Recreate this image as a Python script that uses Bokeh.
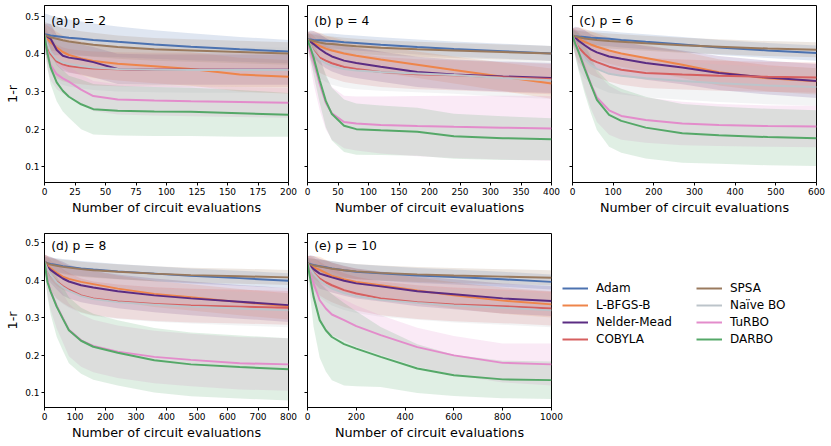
import numpy as np
from bokeh.plotting import figure
from bokeh.models import Range1d, FixedTicker, Label, Legend, LegendItem, CustomJSTickFormatter
from bokeh.layouts import column, row
from bokeh.embed import file_html
from bokeh.resources import INLINE

METHODS = ["Adam", "L-BFGS-B", "Nelder-Mead", "COBYLA", "SPSA", "Naïve BO", "TuRBO", "DARBO"]
COLORS = ["#4C72B0", "#EE854A", "#5B2C83", "#D65F5F", "#9A7A5E", "#BCC4CA", "#E38CCB", "#55A868"]

# ---------------- p = 2 ----------------
EVALS_P2 = [0, 2.5, 5, 10, 15, 20, 30, 40, 60, 90, 120, 160, 200]
MEAN_P2 = {
    "Adam":        [0.452, 0.451, 0.449, 0.447, 0.445, 0.443, 0.440, 0.437, 0.432, 0.425, 0.419, 0.412, 0.406],
    "L-BFGS-B":    [0.450, 0.440, 0.430, 0.417, 0.405, 0.397, 0.388, 0.381, 0.374, 0.367, 0.360, 0.345, 0.339],
    "Nelder-Mead": [0.450, 0.445, 0.440, 0.410, 0.395, 0.390, 0.385, 0.378, 0.360, 0.358, 0.358, 0.358, 0.358],
    "COBYLA":      [0.450, 0.420, 0.400, 0.380, 0.372, 0.368, 0.364, 0.361, 0.359, 0.358, 0.358, 0.357, 0.357],
    "SPSA":        [0.450, 0.447, 0.444, 0.440, 0.436, 0.433, 0.428, 0.424, 0.418, 0.412, 0.409, 0.405, 0.401],
    "Naïve BO":    [0.450, 0.425, 0.405, 0.385, 0.377, 0.373, 0.368, 0.364, 0.360, 0.358, 0.357, 0.357, 0.357],
    "TuRBO":       [0.450, 0.400, 0.370, 0.346, 0.335, 0.326, 0.305, 0.288, 0.279, 0.276, 0.274, 0.272, 0.270],
    "DARBO":       [0.450, 0.400, 0.364, 0.324, 0.302, 0.286, 0.266, 0.253, 0.249, 0.247, 0.246, 0.242, 0.238],
}
SD_P2 = {
    "Adam":        [0.055, 0.054, 0.053, 0.051, 0.049, 0.048, 0.046, 0.044, 0.041, 0.038, 0.036, 0.033, 0.031],
    "L-BFGS-B":    [0.030, 0.035, 0.040, 0.042, 0.044, 0.045, 0.045, 0.045, 0.045, 0.045, 0.045, 0.045, 0.045],
    "Nelder-Mead": [0.030, 0.035, 0.040, 0.040, 0.040, 0.040, 0.040, 0.040, 0.040, 0.040, 0.040, 0.040, 0.040],
    "COBYLA":      [0.030, 0.040, 0.045, 0.045, 0.045, 0.045, 0.045, 0.045, 0.045, 0.045, 0.045, 0.045, 0.045],
    "SPSA":        [0.035, 0.035, 0.035, 0.034, 0.033, 0.033, 0.032, 0.032, 0.031, 0.030, 0.030, 0.030, 0.030],
    "Naïve BO":    [0.030, 0.045, 0.055, 0.060, 0.060, 0.060, 0.060, 0.060, 0.060, 0.060, 0.060, 0.060, 0.060],
    "TuRBO":       [0.030, 0.040, 0.040, 0.040, 0.040, 0.040, 0.040, 0.040, 0.040, 0.040, 0.040, 0.040, 0.040],
    "DARBO":       [0.030, 0.040, 0.045, 0.050, 0.055, 0.056, 0.066, 0.067, 0.066, 0.065, 0.064, 0.062, 0.058],
}

# ---------------- p = 4 ----------------
EVALS_P4 = [0, 5, 10, 20, 30, 40, 60, 80, 120, 180, 240, 320, 400]
MEAN_P4 = {
    "Adam":        [0.438, 0.438, 0.437, 0.436, 0.435, 0.434, 0.431, 0.429, 0.424, 0.418, 0.413, 0.407, 0.401],
    "L-BFGS-B":    [0.438, 0.434, 0.430, 0.421, 0.414, 0.409, 0.401, 0.395, 0.385, 0.371, 0.357, 0.339, 0.321],
    "Nelder-Mead": [0.438, 0.432, 0.426, 0.413, 0.402, 0.393, 0.382, 0.376, 0.366, 0.352, 0.345, 0.340, 0.336],
    "COBYLA":      [0.438, 0.420, 0.408, 0.390, 0.382, 0.375, 0.365, 0.360, 0.352, 0.346, 0.343, 0.338, 0.333],
    "SPSA":        [0.438, 0.436, 0.434, 0.430, 0.427, 0.426, 0.423, 0.420, 0.416, 0.412, 0.409, 0.405, 0.401],
    "Naïve BO":    [0.438, 0.420, 0.405, 0.385, 0.375, 0.368, 0.360, 0.356, 0.352, 0.348, 0.344, 0.336, 0.330],
    "TuRBO":       [0.438, 0.405, 0.380, 0.320, 0.270, 0.242, 0.219, 0.215, 0.211, 0.208, 0.206, 0.204, 0.202],
    "DARBO":       [0.438, 0.415, 0.390, 0.330, 0.275, 0.240, 0.209, 0.200, 0.197, 0.193, 0.181, 0.176, 0.173],
}
SD_P4 = {
    "Adam":        [0.015, 0.016, 0.017, 0.018, 0.019, 0.020, 0.020, 0.020, 0.020, 0.020, 0.020, 0.020, 0.020],
    "L-BFGS-B":    [0.020, 0.025, 0.030, 0.035, 0.035, 0.035, 0.035, 0.035, 0.035, 0.035, 0.036, 0.038, 0.040],
    "Nelder-Mead": [0.020, 0.030, 0.035, 0.040, 0.040, 0.040, 0.040, 0.040, 0.040, 0.040, 0.040, 0.040, 0.040],
    "COBYLA":      [0.020, 0.035, 0.040, 0.040, 0.040, 0.040, 0.040, 0.040, 0.040, 0.040, 0.040, 0.040, 0.040],
    "SPSA":        [0.015, 0.016, 0.017, 0.018, 0.019, 0.020, 0.020, 0.020, 0.020, 0.020, 0.020, 0.020, 0.020],
    "Naïve BO":    [0.020, 0.040, 0.050, 0.050, 0.050, 0.050, 0.050, 0.050, 0.050, 0.050, 0.050, 0.050, 0.050],
    "TuRBO":       [0.020, 0.040, 0.060, 0.070, 0.070, 0.070, 0.070, 0.072, 0.076, 0.080, 0.083, 0.085, 0.086],
    "DARBO":       [0.020, 0.030, 0.045, 0.060, 0.070, 0.070, 0.070, 0.068, 0.066, 0.064, 0.060, 0.058, 0.056],
}

# ---------------- p = 6 ----------------
EVALS_P6 = [0, 7.5, 15, 30, 45, 60, 90, 120, 180, 270, 360, 480, 600]
MEAN_P6 = {
    "Adam":        [0.448, 0.447, 0.446, 0.445, 0.443, 0.442, 0.440, 0.437, 0.432, 0.425, 0.417, 0.409, 0.402],
    "L-BFGS-B":    [0.448, 0.444, 0.440, 0.432, 0.425, 0.419, 0.409, 0.401, 0.389, 0.371, 0.351, 0.335, 0.327],
    "Nelder-Mead": [0.448, 0.442, 0.435, 0.423, 0.412, 0.404, 0.393, 0.387, 0.376, 0.364, 0.349, 0.337, 0.328],
    "COBYLA":      [0.448, 0.430, 0.417, 0.400, 0.385, 0.378, 0.366, 0.358, 0.349, 0.345, 0.342, 0.339, 0.337],
    "SPSA":        [0.448, 0.446, 0.444, 0.441, 0.439, 0.437, 0.434, 0.432, 0.428, 0.423, 0.419, 0.414, 0.411],
    "Naïve BO":    [0.448, 0.430, 0.410, 0.385, 0.370, 0.360, 0.347, 0.342, 0.335, 0.328, 0.322, 0.316, 0.312],
    "TuRBO":       [0.448, 0.430, 0.408, 0.364, 0.320, 0.284, 0.250, 0.235, 0.224, 0.215, 0.211, 0.208, 0.207],
    "DARBO":       [0.448, 0.425, 0.405, 0.360, 0.318, 0.278, 0.238, 0.222, 0.204, 0.189, 0.184, 0.179, 0.176],
}
SD_P6 = {
    "Adam":        [0.015, 0.016, 0.017, 0.018, 0.019, 0.020, 0.020, 0.020, 0.020, 0.020, 0.020, 0.020, 0.020],
    "L-BFGS-B":    [0.020, 0.025, 0.030, 0.035, 0.035, 0.035, 0.035, 0.035, 0.035, 0.035, 0.035, 0.035, 0.035],
    "Nelder-Mead": [0.020, 0.030, 0.035, 0.040, 0.040, 0.042, 0.044, 0.045, 0.045, 0.045, 0.045, 0.045, 0.045],
    "COBYLA":      [0.020, 0.035, 0.040, 0.040, 0.040, 0.040, 0.040, 0.040, 0.040, 0.040, 0.040, 0.040, 0.040],
    "SPSA":        [0.015, 0.016, 0.017, 0.018, 0.019, 0.020, 0.020, 0.020, 0.020, 0.020, 0.020, 0.020, 0.020],
    "Naïve BO":    [0.020, 0.040, 0.050, 0.050, 0.050, 0.050, 0.050, 0.050, 0.050, 0.050, 0.050, 0.050, 0.050],
    "TuRBO":       [0.020, 0.035, 0.045, 0.060, 0.065, 0.065, 0.065, 0.063, 0.060, 0.058, 0.056, 0.055, 0.055],
    "DARBO":       [0.020, 0.035, 0.050, 0.065, 0.075, 0.080, 0.085, 0.085, 0.082, 0.078, 0.076, 0.075, 0.074],
}

# ---------------- p = 8 ----------------
EVALS_P8 = [0, 10, 20, 40, 60, 80, 120, 160, 240, 360, 480, 640, 800]
MEAN_P8 = {
    "Adam":        [0.449, 0.446, 0.444, 0.441, 0.438, 0.436, 0.432, 0.429, 0.424, 0.418, 0.412, 0.406, 0.399],
    "L-BFGS-B":    [0.449, 0.440, 0.432, 0.420, 0.410, 0.404, 0.396, 0.390, 0.378, 0.364, 0.355, 0.342, 0.331],
    "Nelder-Mead": [0.449, 0.435, 0.428, 0.416, 0.405, 0.397, 0.387, 0.381, 0.371, 0.360, 0.352, 0.343, 0.334],
    "COBYLA":      [0.449, 0.430, 0.414, 0.397, 0.385, 0.375, 0.360, 0.352, 0.344, 0.337, 0.333, 0.330, 0.327],
    "SPSA":        [0.449, 0.445, 0.442, 0.439, 0.436, 0.434, 0.430, 0.427, 0.423, 0.418, 0.414, 0.411, 0.408],
    "Naïve BO":    [0.449, 0.430, 0.415, 0.395, 0.382, 0.372, 0.358, 0.350, 0.342, 0.335, 0.330, 0.325, 0.320],
    "TuRBO":       [0.449, 0.400, 0.372, 0.332, 0.300, 0.268, 0.240, 0.225, 0.210, 0.196, 0.188, 0.179, 0.176],
    "DARBO":       [0.449, 0.395, 0.370, 0.330, 0.298, 0.267, 0.239, 0.223, 0.207, 0.187, 0.176, 0.169, 0.163],
}
SD_P8 = {
    "Adam":        [0.015, 0.016, 0.017, 0.018, 0.019, 0.020, 0.020, 0.020, 0.020, 0.020, 0.020, 0.020, 0.020],
    "L-BFGS-B":    [0.020, 0.025, 0.030, 0.035, 0.035, 0.035, 0.035, 0.035, 0.035, 0.035, 0.035, 0.035, 0.035],
    "Nelder-Mead": [0.020, 0.030, 0.035, 0.040, 0.045, 0.045, 0.045, 0.045, 0.045, 0.045, 0.045, 0.045, 0.045],
    "COBYLA":      [0.020, 0.035, 0.040, 0.045, 0.045, 0.045, 0.045, 0.045, 0.045, 0.045, 0.045, 0.045, 0.045],
    "SPSA":        [0.015, 0.016, 0.017, 0.018, 0.019, 0.020, 0.020, 0.020, 0.020, 0.020, 0.020, 0.020, 0.020],
    "Naïve BO":    [0.020, 0.035, 0.045, 0.045, 0.045, 0.045, 0.045, 0.045, 0.045, 0.045, 0.045, 0.045, 0.045],
    "TuRBO":       [0.020, 0.040, 0.050, 0.060, 0.065, 0.070, 0.070, 0.070, 0.070, 0.070, 0.070, 0.070, 0.070],
    "DARBO":       [0.020, 0.040, 0.060, 0.080, 0.085, 0.088, 0.088, 0.088, 0.087, 0.086, 0.085, 0.084, 0.083],
}

# ---------------- p = 10 ----------------
EVALS_P10 = [0, 12.5, 25, 50, 75, 100, 150, 200, 300, 450, 600, 800, 1000]
MEAN_P10 = {
    "Adam":        [0.445, 0.443, 0.441, 0.438, 0.435, 0.432, 0.427, 0.423, 0.419, 0.413, 0.409, 0.403, 0.396],
    "L-BFGS-B":    [0.445, 0.440, 0.435, 0.428, 0.420, 0.412, 0.403, 0.396, 0.387, 0.373, 0.360, 0.346, 0.336],
    "Nelder-Mead": [0.445, 0.437, 0.430, 0.418, 0.413, 0.408, 0.399, 0.392, 0.384, 0.371, 0.363, 0.352, 0.345],
    "COBYLA":      [0.445, 0.430, 0.420, 0.405, 0.395, 0.387, 0.374, 0.365, 0.352, 0.342, 0.336, 0.331, 0.325],
    "SPSA":        [0.445, 0.442, 0.440, 0.437, 0.434, 0.431, 0.427, 0.424, 0.420, 0.416, 0.413, 0.410, 0.407],
    "Naïve BO":    [0.445, 0.430, 0.418, 0.400, 0.388, 0.378, 0.366, 0.358, 0.348, 0.340, 0.333, 0.327, 0.320],
    "TuRBO":       [0.445, 0.415, 0.392, 0.347, 0.325, 0.309, 0.294, 0.278, 0.254, 0.222, 0.200, 0.180, 0.176],
    "DARBO":       [0.445, 0.400, 0.356, 0.294, 0.267, 0.249, 0.230, 0.218, 0.196, 0.165, 0.147, 0.136, 0.134],
}
SD_P10 = {
    "Adam":        [0.015, 0.016, 0.017, 0.018, 0.019, 0.020, 0.020, 0.020, 0.020, 0.020, 0.020, 0.020, 0.020],
    "L-BFGS-B":    [0.020, 0.025, 0.030, 0.035, 0.035, 0.035, 0.035, 0.035, 0.035, 0.035, 0.035, 0.035, 0.035],
    "Nelder-Mead": [0.020, 0.030, 0.035, 0.040, 0.040, 0.040, 0.040, 0.040, 0.040, 0.040, 0.040, 0.040, 0.040],
    "COBYLA":      [0.020, 0.035, 0.040, 0.045, 0.045, 0.045, 0.045, 0.045, 0.045, 0.045, 0.045, 0.045, 0.045],
    "SPSA":        [0.015, 0.016, 0.017, 0.018, 0.019, 0.020, 0.020, 0.020, 0.020, 0.020, 0.020, 0.020, 0.020],
    "Naïve BO":    [0.020, 0.035, 0.045, 0.045, 0.045, 0.045, 0.045, 0.045, 0.045, 0.045, 0.045, 0.045, 0.045],
    "TuRBO":       [0.020, 0.040, 0.050, 0.055, 0.055, 0.055, 0.055, 0.055, 0.053, 0.052, 0.052, 0.052, 0.056],
    "DARBO":       [0.020, 0.050, 0.080, 0.100, 0.110, 0.115, 0.110, 0.100, 0.080, 0.065, 0.055, 0.050, 0.050],
}

PANELS = [
    ("(a) p = 2", EVALS_P2, MEAN_P2, SD_P2, 200, 25),
    ("(b) p = 4", EVALS_P4, MEAN_P4, SD_P4, 400, 50),
    ("(c) p = 6", EVALS_P6, MEAN_P6, SD_P6, 600, 100),
    ("(d) p = 8", EVALS_P8, MEAN_P8, SD_P8, 800, 100),
    ("(e) p = 10", EVALS_P10, MEAN_P10, SD_P10, 1000, 200),
]
Y_TICKS = [0.1, 0.2, 0.3, 0.4, 0.5]
FONT = "DejaVu Sans"


def make_panel(spec, yr, fh, borders, show_ylab, title_y):
    tag, evals, means, sds, xmax, xstep = spec
    left, right, top, bottom = borders
    p = figure(frame_width=244, frame_height=fh,
               min_border_left=left, min_border_right=right,
               min_border_top=top, min_border_bottom=bottom,
               x_range=Range1d(0, xmax), y_range=Range1d(*yr),
               output_backend="svg", toolbar_location=None)
    x = np.array(evals, dtype=float)
    lines = []
    for name, col in zip(METHODS, COLORS):
        m = np.array(means[name]); s = np.array(sds[name])
        p.varea(x=x, y1=m - s, y2=m + s, fill_color=col, fill_alpha=0.18)
    for name, col in zip(METHODS, COLORS):
        r = p.line(x, means[name], line_color=col, line_width=2)
        lines.append(r)
    p.xaxis.ticker = FixedTicker(ticks=list(range(0, xmax + 1, xstep)))
    p.yaxis.ticker = FixedTicker(ticks=Y_TICKS)
    p.xaxis.axis_label = "Number of circuit evaluations"
    for ax in (p.xaxis[0], p.yaxis[0]):
        ax.major_tick_in = 0
        ax.major_tick_out = 3
        ax.minor_tick_in = 0
        ax.minor_tick_out = 0
        ax.axis_line_color = "black"
        ax.major_tick_line_color = "black"
        ax.major_label_text_font = FONT
        ax.major_label_text_font_size = "9px"
        ax.major_label_text_color = "black"
        ax.major_label_standoff = 2
        ax.axis_label_text_font = FONT
        ax.axis_label_text_font_size = "12.8px"
        ax.axis_label_text_font_style = "normal"
        ax.axis_label_text_color = "black"
        ax.axis_label_standoff = 2
    if show_ylab:
        p.yaxis.axis_label = "1-r"
    else:
        p.yaxis.formatter = CustomJSTickFormatter(code="return '';")
        p.yaxis.major_label_standoff = 0
    p.xgrid.visible = False
    p.ygrid.visible = False
    p.outline_line_color = "black"
    p.outline_line_alpha = 1
    p.add_layout(Label(x=0.0275 * xmax, y=title_y, text=tag, text_font=FONT,
                       text_font_size="12.3px", text_baseline="middle", text_color="black"))
    return p, lines


TOP_YR = (0.0582, 0.5285)
BOT_YR = (0.061, 0.525)

pa, _ = make_panel(PANELS[0], TOP_YR, 177, (44, 10, 5, 46), True, 0.4886)
pb, _ = make_panel(PANELS[1], TOP_YR, 177, (9, 10, 5, 46), False, 0.4886)
pc, _ = make_panel(PANELS[2], TOP_YR, 177, (11, 14, 5, 46), False, 0.4886)
pd, _ = make_panel(PANELS[3], BOT_YR, 174, (44, 10, 5, 37), True, 0.491)
pe, lines_e = make_panel(PANELS[4], BOT_YR, 174, (9, 276, 5, 37), False, 0.491)

legend = Legend(items=[LegendItem(label=n, renderers=[r]) for n, r in zip(METHODS, lines_e)],
                nrows=4, orientation="vertical",
                label_text_font=FONT, label_text_font_size="12px", label_text_color="black",
                glyph_width=26, glyph_height=16, label_height=16, label_width=99,
                label_standoff=8, spacing=1, padding=0, margin=0,
                border_line_color=None, background_fill_alpha=0,
                location=(11, 60))
pe.add_layout(legend, "right")

layout = column(row(pa, pb, pc), row(pd, pe))
open("out.html", "w").write(file_html(layout, INLINE))
